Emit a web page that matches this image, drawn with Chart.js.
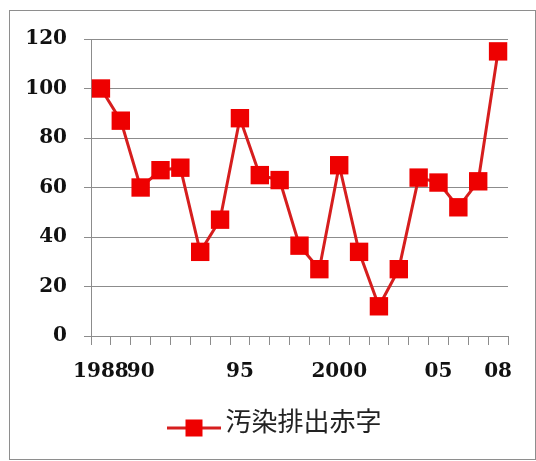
<!DOCTYPE html>
<html>
<head>
<meta charset="utf-8">
<script src="https://cdn.jsdelivr.net/npm/chart.js@4/dist/chart.umd.min.js"></script>
<style>
  html, body { margin: 0; padding: 0; background: #fff; }
  #wrap { position: relative; width: 536px; height: 461px; }
  #frame { position: absolute; left: 9px; top: 10px; width: 525px; height: 448px;
           border: 1px solid #8e8e8e; pointer-events: none; }
  canvas { position: absolute; left: 0; top: 0; }
</style>
</head>
<body>
<div id="wrap">
  <canvas id="c" width="536" height="461"></canvas>
  <div id="frame"></div>
</div>
<script>
// Fiscal years on the category axis
const years = ['1988','1989','1990','1991','1992','1993','1994','1995','1996','1997','1998',
               '1999','2000','2001','2002','2003','2004','2005','2006','2007','2008'];
// Short labels shown under the axis (blank = no label)
const yearTickLabels = ['1988','','90','','','','','95','','','','','2000','','','','','05','','','08'];
// Pollution-emission deficit per year
const deficit = [100, 87, 60, 67, 68, 34, 47, 88, 65, 63, 36.5, 27, 69, 34, 12, 27, 64, 62, 52, 62.5, 115];
const seriesName = '汚染排出赤字';
// Value axis ticks
const yTicks = [0, 20, 40, 60, 80, 100, 120];

const LINE = '#D61E1E';
const MARK = '#EE0000';
const GRID = '#8c8c8c';

// Legend symbol: short line with a square marker
const sym = document.createElement('canvas');
sym.width = 54; sym.height = 40;
(function () {
  const g = sym.getContext('2d');
  const cy = 27;
  g.strokeStyle = LINE; g.lineWidth = 3;
  g.beginPath(); g.moveTo(0, cy); g.lineTo(54, cy); g.stroke();
  g.fillStyle = MARK;
  g.fillRect(18, cy - 8.5, 17, 17);
})();

// Center the legend under the plot rather than under the whole canvas
const legendUnderPlot = {
  id: 'legendUnderPlot',
  afterLayout(chart) {
    if (chart.legend) { chart.legend.left = 50; }
  }
};

new Chart(document.getElementById('c'), {
  type: 'line',
  data: {
    labels: years,
    datasets: [{
      label: seriesName,
      data: deficit,
      borderColor: LINE,
      borderWidth: 3,
      backgroundColor: MARK,
      pointStyle: 'rect',
      pointRadius: 13,
      pointHoverRadius: 13,
      pointBackgroundColor: MARK,
      pointBorderColor: MARK,
      pointBorderWidth: 0,
      tension: 0,
      fill: false
    }]
  },
  plugins: [legendUnderPlot],
  options: {
    responsive: false,
    animation: false,
    events: [],
    layout: { padding: { left: 0, right: 28, top: 39, bottom: 17 } },
    scales: {
      x: {
        type: 'category',
        offset: true,
        grid: { offset: true, drawOnChartArea: false, drawTicks: true, tickLength: 9, color: GRID },
        border: { color: GRID, width: 1 },
        ticks: {
          autoSkip: false,
          maxRotation: 0,
          minRotation: 0,
          padding: 15,
          color: '#111',
          font: { family: 'DejaVu Serif', size: 20, weight: 'bold' },
          callback: (v, i) => yearTickLabels[i]
        },
        afterFit: s => { s.height = 62; }
      },
      y: {
        min: 0,
        max: 120,
        afterBuildTicks: s => { s.ticks = yTicks.map(v => ({ value: v })); },
        grid: { color: GRID, tickLength: 7, lineWidth: 1 },
        border: { color: GRID, width: 1 },
        ticks: {
          padding: 17,
          color: '#111',
          font: { family: 'DejaVu Serif', size: 20, weight: 'bold' }
        },
        afterFit: s => { s.width = 91; }
      }
    },
    plugins: {
      tooltip: { enabled: false },
      legend: {
        position: 'bottom',
        labels: {
          usePointStyle: true,
          pointStyleWidth: 36,
          padding: 10,
          color: '#222',
          font: { family: 'Noto Sans CJK JP', size: 26, weight: 'normal' },
          generateLabels: () => [{
            text: seriesName,
            pointStyle: sym,
            fillStyle: MARK,
            strokeStyle: MARK,
            lineWidth: 0,
            hidden: false,
            datasetIndex: 0,
            fontColor: '#222'
          }]
        }
      }
    }
  }
});
</script>
</body>
</html>
